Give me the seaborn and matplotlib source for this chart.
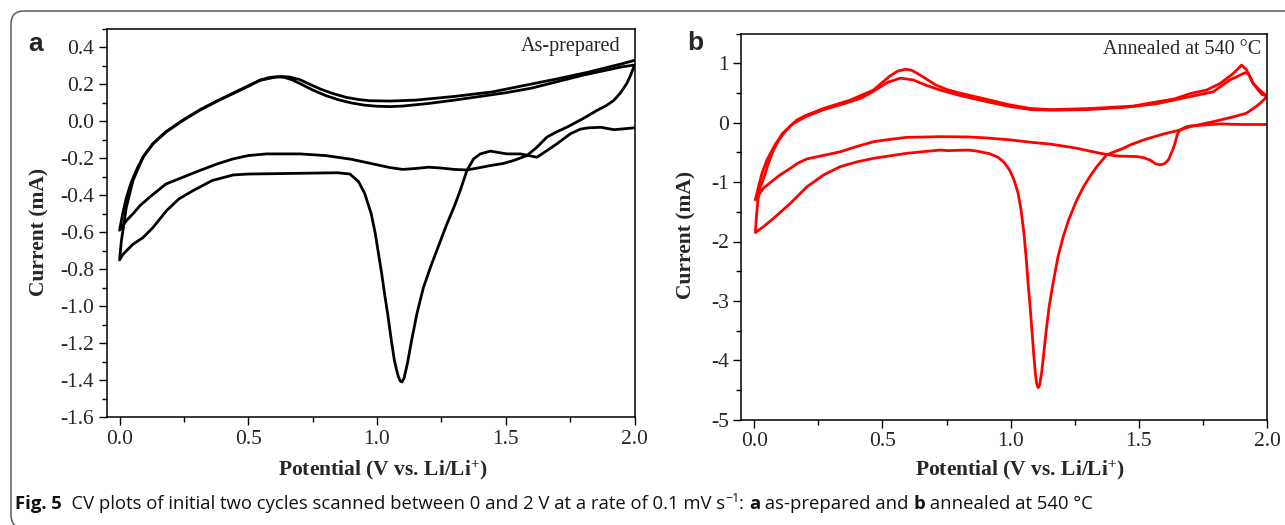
import numpy as np
import pandas as pd
import matplotlib
matplotlib.use("Agg")
import matplotlib.pyplot as plt
import seaborn as sns
from matplotlib.ticker import MultipleLocator, FormatStrFormatter
from matplotlib.patches import FancyBboxPatch

# ---------------- data ----------------
# Panel a (as-prepared), cycle 1: cathodic sweep 2.0 -> 0 V then anodic 0 -> 2.0 V
a1_cat_v = [2.0, 1.96, 1.92, 1.87, 1.82, 1.79, 1.751, 1.699, 1.66, 1.621, 1.589, 1.556, 1.505, 1.47, 1.44,
            1.401, 1.375, 1.349, 1.323, 1.3, 1.27, 1.24, 1.21, 1.18, 1.155, 1.135, 1.118, 1.105, 1.097, 1.09,
            1.083, 1.075, 1.067, 1.055, 1.043, 1.03, 1.018, 1.005, 0.993, 0.977, 0.952, 0.928, 0.895, 0.846,
            0.75, 0.6, 0.5, 0.441, 0.36, 0.285, 0.23, 0.182, 0.13, 0.091, 0.052, 0.013, 0.0]
a1_cat_i = [-0.035, -0.04, -0.045, -0.032, -0.035, -0.042, -0.067, -0.121, -0.158, -0.194, -0.185, -0.176, -0.176,
            -0.168, -0.161, -0.176, -0.203, -0.266, -0.375, -0.46, -0.56, -0.67, -0.78, -0.9, -1.04, -1.18, -1.31,
            -1.39, -1.41, -1.405, -1.383, -1.34, -1.29, -1.18, -1.058, -0.94, -0.823, -0.71, -0.606, -0.498,
            -0.39, -0.326, -0.285, -0.278, -0.28, -0.283, -0.285, -0.29, -0.32, -0.375, -0.42, -0.484, -0.574,
            -0.629, -0.665, -0.72, -0.75]
a1_an_v = [0.007, 0.026, 0.052, 0.091, 0.13, 0.18, 0.246, 0.311, 0.38, 0.44, 0.5, 0.545, 0.58, 0.61, 0.64,
           0.67, 0.7, 0.75, 0.8, 0.85, 0.9, 0.95, 1.0, 1.05, 1.1, 1.2, 1.3, 1.4, 1.5, 1.6, 1.7, 1.8, 1.9, 1.95, 2.0]
a1_an_i = [-0.647, -0.466, -0.32, -0.194, -0.121, -0.058, 0.005, 0.06, 0.11, 0.15, 0.19, 0.223, 0.237, 0.242,
           0.238, 0.225, 0.205, 0.17, 0.14, 0.117, 0.1, 0.088, 0.082, 0.08, 0.083, 0.097, 0.115, 0.135, 0.155,
           0.18, 0.215, 0.25, 0.28, 0.295, 0.305]
# Panel a, cycle 2
a2_cat_v = [2.0, 1.985, 1.97, 1.946, 1.92, 1.89, 1.855, 1.8, 1.738, 1.7, 1.66, 1.621, 1.582, 1.53, 1.49, 1.44,
            1.4, 1.349, 1.3, 1.245, 1.2, 1.15, 1.1, 1.05, 1.0, 0.9, 0.8, 0.7, 0.571, 0.5, 0.441, 0.38, 0.311,
            0.25, 0.18, 0.117, 0.08, 0.052, 0.026, 0.0]
a2_cat_i = [0.304, 0.25, 0.205, 0.155, 0.114, 0.085, 0.06, 0.015, -0.031, -0.055, -0.085, -0.14, -0.185, -0.212,
            -0.228, -0.239, -0.25, -0.263, -0.26, -0.252, -0.248, -0.255, -0.26, -0.25, -0.235, -0.205, -0.185,
            -0.176, -0.176, -0.185, -0.203, -0.23, -0.266, -0.3, -0.339, -0.41, -0.455, -0.5, -0.538, -0.589]
a2_an_v = [0.012, 0.025, 0.045, 0.07, 0.095, 0.13, 0.18, 0.246, 0.311, 0.38, 0.44, 0.5, 0.545, 0.6, 0.63, 0.66,
           0.7, 0.74, 0.78, 0.83, 0.88, 0.93, 0.97, 1.05, 1.15, 1.3, 1.45, 1.556, 1.7, 1.816, 1.946, 2.0]
a2_an_i = [-0.5, -0.42, -0.33, -0.25, -0.185, -0.12, -0.056, 0.007, 0.062, 0.112, 0.152, 0.193, 0.222, 0.238,
           0.243, 0.24, 0.226, 0.2, 0.175, 0.15, 0.13, 0.118, 0.112, 0.11, 0.115, 0.135, 0.16, 0.19, 0.23, 0.265,
           0.31, 0.33]

# Panel b (annealed at 540 C), cycle 1
b1_cat_v = [2.0, 1.9, 1.817, 1.75, 1.7, 1.687, 1.675, 1.661, 1.65, 1.641, 1.63, 1.615, 1.6, 1.583, 1.565, 1.544,
            1.52, 1.492, 1.45, 1.414, 1.349, 1.3, 1.258, 1.2, 1.154, 1.08, 1.0, 0.9, 0.835, 0.725, 0.675, 0.595,
            0.514, 0.465, 0.4, 0.335, 0.27, 0.205, 0.17, 0.14, 0.1, 0.075, 0.036, 0.004]
b1_cat_i = [-0.03, -0.03, -0.02, -0.04, -0.055, -0.067, -0.09, -0.12, -0.2, -0.35, -0.48, -0.63, -0.69, -0.71,
            -0.69, -0.63, -0.59, -0.57, -0.565, -0.56, -0.515, -0.47, -0.43, -0.39, -0.36, -0.33, -0.29, -0.255,
            -0.24, -0.235, -0.24, -0.246, -0.29, -0.32, -0.4, -0.49, -0.55, -0.61, -0.68, -0.77, -0.88, -0.965,
            -1.1, -1.3]
b1_an_v = [0.015, 0.03, 0.05, 0.08, 0.11, 0.15, 0.2, 0.27, 0.35, 0.42, 0.465, 0.52, 0.57, 0.62, 0.67, 0.725,
           0.8, 0.9, 1.0, 1.08, 1.16, 1.3, 1.45, 1.57, 1.7, 1.79, 1.855, 1.914, 1.927, 1.946, 1.979, 2.0]
b1_an_i = [-1.1, -0.85, -0.62, -0.38, -0.18, -0.02, 0.1, 0.22, 0.32, 0.42, 0.53, 0.68, 0.75, 0.72, 0.63, 0.55,
           0.46, 0.36, 0.27, 0.22, 0.21, 0.22, 0.26, 0.32, 0.44, 0.52, 0.72, 0.84, 0.83, 0.66, 0.48, 0.44]
# Panel b, cycle 2
b2_cat_v = [2.0, 1.979, 1.96, 1.92, 1.87, 1.817, 1.79, 1.7, 1.661, 1.596, 1.518, 1.466, 1.44, 1.375, 1.336,
            1.31, 1.284, 1.255, 1.226, 1.205, 1.185, 1.165, 1.15, 1.14, 1.13, 1.121, 1.113, 1.107, 1.101, 1.096,
            1.09, 1.084, 1.076, 1.068, 1.06, 1.052, 1.04, 1.028, 1.012, 0.996, 0.975, 0.95, 0.916, 0.87, 0.835,
            0.755, 0.725, 0.595, 0.465, 0.4, 0.335, 0.27, 0.205, 0.14, 0.075, 0.036, 0.004]
b2_cat_i = [0.44, 0.35, 0.28, 0.16, 0.1, 0.045, 0.017, -0.067, -0.123, -0.19, -0.29, -0.375, -0.43, -0.54, -0.74,
            -0.9, -1.08, -1.33, -1.64, -1.92, -2.25, -2.71, -3.1, -3.45, -3.85, -4.2, -4.42, -4.46, -4.38, -4.2,
            -3.9, -3.55, -3.1, -2.7, -2.25, -1.87, -1.45, -1.17, -0.95, -0.8, -0.67, -0.58, -0.52, -0.48, -0.46,
            -0.47, -0.46, -0.515, -0.6, -0.66, -0.74, -0.88, -1.08, -1.36, -1.61, -1.75, -1.85]
b2_an_v = [0.008, 0.014, 0.022, 0.035, 0.043, 0.055, 0.075, 0.095, 0.114, 0.14, 0.166, 0.2, 0.27, 0.374, 0.465,
           0.5, 0.53, 0.56, 0.59, 0.615, 0.64, 0.673, 0.71, 0.75, 0.8, 0.85, 0.9, 0.996, 1.076, 1.157, 1.317,
           1.478, 1.57, 1.639, 1.7, 1.765, 1.817, 1.869, 1.901, 1.92, 1.946, 1.979, 2.0]
b2_an_i = [-1.6, -1.3, -1.1, -0.95, -0.85, -0.68, -0.46, -0.3, -0.18, -0.06, 0.045, 0.12, 0.24, 0.38, 0.55,
           0.68, 0.79, 0.87, 0.9, 0.88, 0.82, 0.73, 0.63, 0.56, 0.5, 0.45, 0.4, 0.3, 0.24, 0.22, 0.24, 0.28, 0.35,
           0.4, 0.49, 0.55, 0.66, 0.83, 0.97, 0.89, 0.66, 0.52, 0.45]

x_ticks = [0.0, 0.5, 1.0, 1.5, 2.0]
a_yticks = [-1.6, -1.4, -1.2, -1.0, -0.8, -0.6, -0.4, -0.2, 0.0, 0.2, 0.4]
b_yticks = [-5, -4, -3, -2, -1, 0, 1]

xlabel_text = r"Potential (V vs. Li/Li$^{\mathbf{+}}$)"
ylabel_text = "Current (mA)"


def cycles_frame(cycles):
    rows = []
    for k, (v, i) in enumerate(cycles):
        for n, (vv, ii) in enumerate(zip(v, i)):
            rows.append({"potential": vv, "current": ii, "cycle": k, "order": n})
    return pd.DataFrame(rows)


df_a = cycles_frame([(a1_cat_v + a1_an_v, a1_cat_i + a1_an_i),
                     (a2_cat_v + a2_an_v, a2_cat_i + a2_an_i)])
df_b = cycles_frame([(b1_cat_v + b1_an_v, b1_cat_i + b1_an_i),
                     (b2_cat_v + b2_an_v, b2_cat_i + b2_an_i)])

# ---------------- style ----------------
sns.set_theme(style="white")
plt.rcParams["font.family"] = ["Liberation Serif", "DejaVu Serif"]
plt.rcParams["axes.unicode_minus"] = False
plt.rcParams["mathtext.fontset"] = "custom"
plt.rcParams["mathtext.rm"] = "Liberation Serif"
plt.rcParams["mathtext.bf"] = "Liberation Serif:bold"
plt.rcParams["mathtext.it"] = "Liberation Serif:italic"

W, H = 1285, 525
fig = plt.figure(figsize=(W / 100, H / 100), dpi=100)
fig.patch.set_facecolor("white")


def px_axes(l, r, t, b):
    return fig.add_axes([l / W, 1 - b / H, (r - l) / W, (b - t) / H])


ax_a = px_axes(106.7, 634.5, 29, 417)
ax_b = px_axes(741.5, 1267, 33.6, 419.7)

line_kw = dict(estimator=None, sort=False, units="cycle", legend=False, linewidth=2.0,
               solid_joinstyle="round", solid_capstyle="round")
sns.lineplot(data=df_a, x="potential", y="current", color="black", ax=ax_a, **line_kw)
sns.lineplot(data=df_b, x="potential", y="current", color="#ff0000", ax=ax_b, **line_kw)


def style_axes(ax, ylim, yticks, yminor, yfmt, ylab_xy, xlab_xy):
    ax.set_facecolor("white")
    ax.set_xlim(-0.05, 2.0)
    ax.set_ylim(*ylim)
    ax.set_xticks(x_ticks)
    ax.xaxis.set_minor_locator(MultipleLocator(0.25))
    ax.set_yticks(yticks)
    ax.yaxis.set_minor_locator(MultipleLocator(yminor))
    ax.xaxis.set_major_formatter(FormatStrFormatter("%.1f"))
    ax.yaxis.set_major_formatter(FormatStrFormatter(yfmt))
    ax.tick_params(which="both", direction="out", top=False, right=False, bottom=True, left=True,
                   color="black", width=1.0)
    ax.tick_params(which="major", length=6, labelsize=15.5, pad=3)
    ax.tick_params(which="minor", length=3.5)
    for lab in ax.get_xticklabels() + ax.get_yticklabels():
        lab.set_fontfamily("Liberation Serif")
    for s in ax.spines.values():
        s.set_visible(True)
        s.set_color("black")
        s.set_linewidth(1.1)
    ax.grid(False)
    ax.set_xlabel(xlabel_text, fontsize=15.5, fontweight="bold", fontfamily="Liberation Serif")
    ax.set_ylabel(ylabel_text, fontsize=15.5, fontweight="bold", fontfamily="Liberation Serif")
    ax.xaxis.set_label_coords(*xlab_xy)
    ax.yaxis.set_label_coords(*ylab_xy)
    ax.xaxis.label.set_verticalalignment("center")
    ax.yaxis.label.set_verticalalignment("center")


style_axes(ax_a, (-1.6, 0.5), a_yticks, 0.1, "%.1f", (-0.128, 0.477), (0.523, -0.137))
style_axes(ax_b, (-5, 1.5), b_yticks, 0.5, "%d", (-0.1045, 0.478), (0.53, -0.13))

# panel annotations
fig.text(36 / W, 1 - 44 / H, "a", fontsize=19, fontweight="bold", fontfamily="Liberation Sans",
         ha="center", va="center")
fig.text(695 / W, 1 - 43 / H, "b", fontsize=19, fontweight="bold", fontfamily="Liberation Sans",
         ha="center", va="center")
fig.text(620 / W, 1 - 47 / H, "As-prepared", fontsize=14.5, fontfamily="Liberation Serif",
         ha="right", va="center")
fig.text(1261 / W, 1 - 49 / H, "Annealed at 540 \u00b0C", fontsize=14.5, fontfamily="Liberation Serif",
         ha="right", va="center")

# frame around the figure
frame = FancyBboxPatch((0.11, -0.03), 13.2, 5.17, boxstyle="round,pad=0,rounding_size=0.13",
                       transform=fig.dpi_scale_trans, fill=False, edgecolor="#5a5a5a", linewidth=1.1)
fig.add_artist(frame)

# caption with mixed bold pieces
cap_family = ["Open Sans", "DejaVu Sans"]
cap_size = 13.3
pieces = [("Fig. 5", "bold", 0), ("  CV plots of initial two cycles scanned between 0 and 2 V at a rate of 0.1 mV s", "normal", 0),
          ("\u22121", "normal", 1), (": ", "normal", 0), ("a", "bold", 0), (" as-prepared and ", "normal", 0),
          ("b", "bold", 0), (" annealed at 540 \u00b0C", "normal", 0)]
renderer = fig.canvas.get_renderer()
x_px = 15.0
base_px = 509.0
for txt, weight, sup in pieces:
    size = cap_size * (0.68 if sup else 1.0)
    yb = base_px - (7 if sup else 0)
    t = fig.text(x_px / W, 1 - yb / H, txt, fontsize=size, fontweight=weight, fontfamily=cap_family,
                 ha="left", va="baseline", color="#111111")
    bb = t.get_window_extent(renderer=renderer)
    x_px += bb.width

fig.savefig("out.png", dpi=100, facecolor="white")
